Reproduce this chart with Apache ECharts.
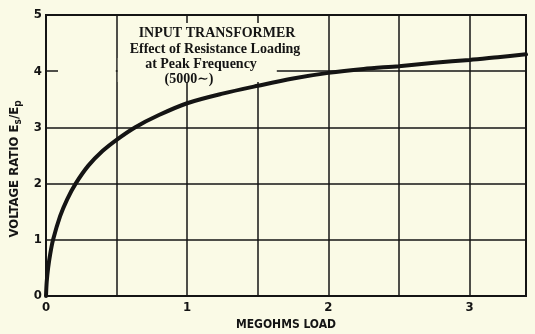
<!DOCTYPE html>
<html>
<head>
<meta charset="utf-8">
<script src="https://cdn.jsdelivr.net/npm/echarts@6/dist/echarts.min.js"></script>
<style>
  html, body { margin: 0; padding: 0; background: #fafae6; }
  #chart { width: 535px; height: 334px; }
</style>
</head>
<body>
<div id="chart"></div>
<script>
// Input transformer: voltage ratio vs. resistance load (megohms)
const loadMeg = [0, 0.005, 0.015, 0.03, 0.05, 0.1, 0.15, 0.21, 0.3, 0.4, 0.5, 0.63, 0.8, 1.0, 1.25, 1.5, 1.75, 2.0, 2.25, 2.5, 2.75, 3.0, 3.2, 3.4];
const voltageRatio = [0, 0.25, 0.5, 0.75, 1.0, 1.42, 1.72, 2.0, 2.32, 2.58, 2.78, 3.0, 3.22, 3.43, 3.6, 3.74, 3.87, 3.97, 4.04, 4.09, 4.15, 4.2, 4.25, 4.3];
const xTickLabels = ['0', '1', '2', '3'];
const yTickLabels = ['0', '1', '2', '3', '4', '5'];
const titleLines = ['INPUT TRANSFORMER', 'Effect of Resistance Loading', 'at Peak Frequency', '(5000\u223C)'];

const BG = '#fafae6';
const INK = '#141414';
const sansNarrow = '"Liberation Sans Narrow", "DejaVu Sans Condensed", "Liberation Sans", sans-serif';
const serif = '"Liberation Serif", "DejaVu Serif", serif';

const chart = echarts.init(document.getElementById('chart'));

const titleX = [217, 215, 201, 189];
const titleY = [33, 49, 64, 79];

chart.setOption({
  backgroundColor: BG,
  animation: false,
  grid: {
    left: 46, right: 9, top: 15, bottom: 38,
    outerBoundsMode: 'none', containLabel: false,
    show: true, borderColor: INK, borderWidth: 2, backgroundColor: 'transparent'
  },
  xAxis: {
    type: 'value', min: 0, max: 3.4, interval: 0.5,
    name: 'MEGOHMS LOAD', nameLocation: 'middle', nameGap: 22,
    nameTextStyle: { fontFamily: sansNarrow, fontWeight: 'bold', fontSize: 12, color: INK },
    axisLine: { show: true, lineStyle: { color: INK, width: 2 } },
    axisTick: { show: false },
    axisLabel: {
      margin: 5, fontFamily: sansNarrow, fontWeight: 'bold', fontSize: 13, color: INK,
      formatter: v => (Number.isInteger(v) && xTickLabels.includes(String(v))) ? String(v) : ''
    },
    splitLine: { show: true, lineStyle: { color: INK, width: 1.5 } }
  },
  yAxis: {
    type: 'value', min: 0, max: 5, interval: 1,
    axisLine: { show: true, lineStyle: { color: INK, width: 2 } },
    axisTick: { show: false },
    axisLabel: {
      margin: 4, fontFamily: sansNarrow, fontWeight: 'bold', fontSize: 13, color: INK,
      formatter: v => yTickLabels.includes(String(v)) ? String(v) : ''
    },
    splitLine: { show: true, lineStyle: { color: INK, width: 1.5 } }
  },
  graphic: [
    // paper showing through behind the caption block
    { type: 'rect', z: 1, shape: { x: 121, y: 23, width: 187, height: 36 }, style: { fill: BG } },
    { type: 'rect', z: 1, shape: { x: 117.8, y: 58, width: 159, height: 24 }, style: { fill: BG } },
    { type: 'rect', z: 1, shape: { x: 58, y: 69, width: 57.8, height: 5 }, style: { fill: BG } },
    ...titleLines.map((t, i) => ({
      type: 'text', z: 3, x: titleX[i], y: titleY[i],
      style: {
        text: t, fill: INK, font: 'bold 14px ' + serif,
        textAlign: 'center', textVerticalAlign: 'middle'
      }
    })),
    // vertical axis title with subscripts
    {
      type: 'text', z: 3, x: 15, y: 169, rotation: Math.PI / 2,
      style: {
        text: 'VOLTAGE RATIO E{s|s}/E{s|p}',
        fill: INK, font: 'bold 13px ' + sansNarrow,
        align: 'center', verticalAlign: 'middle',
        rich: { s: { fill: INK, font: 'bold 10px ' + sansNarrow, padding: [7, 0, 0, 0] } }
      }
    }
  ],
  series: [{
    type: 'line',
    data: loadMeg.map((x, i) => [x, voltageRatio[i]]),
    smooth: 0.3,
    showSymbol: false,
    z: 5,
    lineStyle: { color: INK, width: 4, cap: 'round' }
  }]
});
</script>
</body>
</html>
